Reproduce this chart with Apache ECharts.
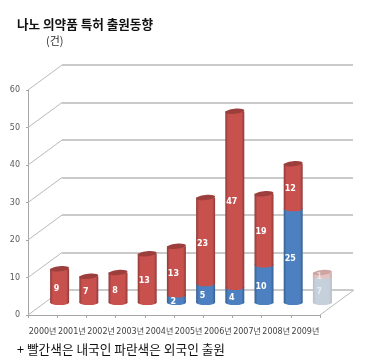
<!DOCTYPE html>
<html>
<head>
<meta charset="utf-8">
<style>
    html, body { margin: 0; padding: 0; background: #fff; }
    #chart { width: 377px; height: 363px; }
</style>
<script src="https://cdn.jsdelivr.net/npm/echarts@6/dist/echarts.min.js"></script>
</head>
<body>
<div id="chart"></div>
<script>
const years = ['2000년', '2001년', '2002년', '2003년', '2004년', '2005년', '2006년', '2007년', '2008년', '2009년']
const domestic = [9, 7, 8, 13, 13, 23, 47, 19, 12, 1]
const foreign = [0, 0, 0, 0, 2, 5, 4, 10, 25, 7]
const yTicks = [0, 10, 20, 30, 40, 50, 60]

const fontLatin = '"DejaVu Sans", "Noto Sans CJK KR", sans-serif'
const fontKr = '"Noto Sans CJK KR", sans-serif'
const wallColor = '#b9b9b9'
const axisColor = '#a6a6a6'

// depth of the fake 3d box, front plane to back wall
const depthX = 34
const depthY = 25
const barWidth = 19
const capRy = 2.6

const red = { edge: '#8f3a38', mid: '#c8514e', cap: '#9c3f3c' }
const blue = { edge: '#36608f', mid: '#4d80c0', cap: '#3f6ea6' }
const fadedRed = { edge: '#d2aaa9', mid: '#e2c3c2', cap: '#cfa5a4' }
const fadedBlue = { edge: '#b3bfcc', mid: '#c6d0db', cap: '#c0cad5' }

function cylinderFill (c) {
    return new echarts.graphic.LinearGradient(0, 0, 1, 0, [
        { offset: 0, color: c.edge },
        { offset: 0.15, color: c.mid },
        { offset: 0.85, color: c.mid },
        { offset: 1, color: c.edge }
    ])
}

function cylinderSeries (name, values, bases, colors, fadedColors, isTop) {
    return {
        name: name,
        type: 'custom',
        xAxisIndex: 0,
        yAxisIndex: 0,
        clip: false,
        z: 5,
        data: values.map((v, i) => [i, v, bases[i]]),
        renderItem (params, api) {
            const i = api.value(0)
            const v = api.value(1)
            const base = api.value(2)
            if (!v) return { type: 'group', children: [] }

            const p0 = api.coord([i, base])
            const p1 = api.coord([i, base + v])
            const cx = p0[0] + depthX / 2
            const y0 = p0[1] - depthY / 2
            const y1 = p1[1] - depthY / 2
            const faded = i === values.length - 1
            const c = faded ? fadedColors : colors
            const fill = cylinderFill(c)
            const left = cx - barWidth / 2

            const children = [{
                type: 'ellipse',
                shape: { cx: cx, cy: y0, rx: barWidth / 2, ry: capRy },
                style: { fill: fill }
            }, {
                type: 'rect',
                shape: { x: left, y: y1, width: barWidth, height: y0 - y1 },
                style: { fill: fill }
            }]
            if (isTop) {
                children.push({
                    type: 'ellipse',
                    shape: { cx: cx, cy: y1, rx: barWidth / 2, ry: capRy },
                    rotation: 0.1,
                    originX: cx,
                    originY: y1,
                    style: { fill: c.cap }
                })
            }
            children.push({
                type: 'text',
                z2: 10,
                style: {
                    x: cx - 3,
                    y: (y0 + y1) / 2 + 3,
                    text: String(v),
                    fill: faded ? 'rgba(255,255,255,0.55)' : '#fff',
                    font: 'bold 8px ' + fontLatin,
                    align: 'center',
                    verticalAlign: 'middle'
                }
            })
            return { type: 'group', children: children }
        }
    }
}

const chart = echarts.init(document.getElementById('chart'), null, { renderer: 'canvas' })

chart.setOption({
    animation: false,
    backgroundColor: '#fff',
    grid: [
        { left: 28, right: 57, top: 90, bottom: 48 },
        { left: 62, right: 24, top: 65, bottom: 73 }
    ],
    xAxis: [{
        gridIndex: 0,
        type: 'category',
        data: years,
        axisLine: { lineStyle: { color: axisColor, width: 1 } },
        axisTick: { show: true, length: 3, lineStyle: { color: axisColor } },
        axisLabel: { interval: 0, margin: 13, color: '#404040', fontSize: 8, fontFamily: fontLatin, hideOverlap: false },
        splitLine: { show: false }
    }, {
        gridIndex: 1,
        type: 'category',
        data: years,
        show: false
    }],
    yAxis: [{
        gridIndex: 0,
        type: 'value',
        min: 0,
        max: 60,
        interval: 10,
        axisLine: { show: true, lineStyle: { color: axisColor, width: 1 } },
        axisTick: { show: true, length: 2, lineStyle: { color: axisColor } },
        axisLabel: { margin: 8, color: '#595959', fontSize: 8, fontFamily: fontLatin },
        splitLine: { show: false }
    }, {
        gridIndex: 1,
        type: 'value',
        min: 0,
        max: 60,
        interval: 10,
        axisLine: { show: false },
        axisTick: { show: false },
        axisLabel: { show: false },
        splitLine: { show: true, lineStyle: { color: wallColor, width: 1.5 } }
    }],
    graphic: [{
        type: 'text',
        left: 17,
        top: 18,
        style: { text: '나노 의약품 특허 출원동향', fill: '#111', font: 'bold 12.6px ' + fontKr }
    }, {
        type: 'text',
        left: 46,
        top: 35,
        style: { text: '(건)', fill: '#333', font: '11px ' + fontKr }
    }, {
        type: 'text',
        left: 17,
        top: 343,
        style: { text: '+ 빨간색은 내국인 파란색은 외국인 출원', fill: '#111', font: '12.7px ' + fontKr }
    }],
    series: [{
        // diagonal wall and floor lines, one per y tick
        type: 'custom',
        xAxisIndex: 0,
        yAxisIndex: 0,
        clip: false,
        z: 1,
        data: yTicks.map(v => [0, v]),
        renderItem (params, api) {
            const y = api.coord([0, api.value(1)])[1]
            const x0 = params.coordSys.x
            const children = [{
                type: 'line',
                shape: { x1: x0, y1: y, x2: x0 + depthX, y2: y - depthY },
                style: { stroke: wallColor, lineWidth: 1 }
            }]
            if (api.value(1) === 0) {
                const x1 = x0 + params.coordSys.width
                children.push({
                    type: 'line',
                    shape: { x1: x1, y1: y, x2: x1 + depthX, y2: y - depthY },
                    style: { stroke: wallColor, lineWidth: 1 }
                })
            }
            return { type: 'group', children: children }
        }
    },
    cylinderSeries('외국인', foreign, foreign.map(() => 0), blue, fadedBlue, false),
    cylinderSeries('내국인', domestic, foreign, red, fadedRed, true)]
})
</script>
</body>
</html>
